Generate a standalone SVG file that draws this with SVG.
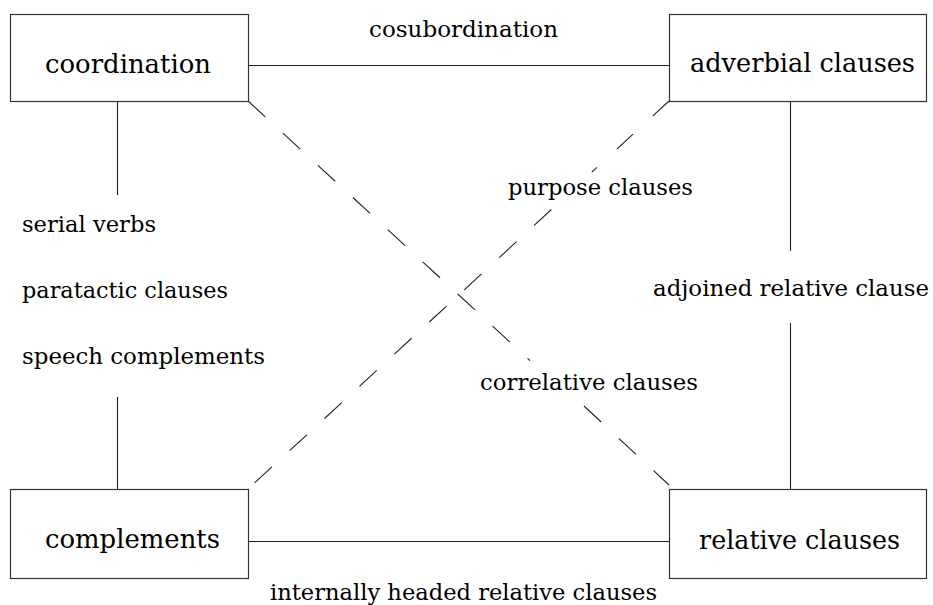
<svg xmlns="http://www.w3.org/2000/svg" width="933" height="605" viewBox="0 0 933 605">
<style>
.box{fill:#fff;stroke:#333;stroke-width:1.2}
.ln{fill:none;stroke:#222;stroke-width:1.1}
.dash{fill:none;stroke:#222;stroke-width:1.1;stroke-dasharray:23.5 24}
text{font-family:'DejaVu Serif',serif;fill:#000}
.big{font-size:26.5px}
.lbl{font-size:23px}
</style>
<rect width="933" height="605" fill="#fff"/>
<g id="connectors">
<line class="ln" x1="248" y1="65.5" x2="669" y2="65.5"/>
<line class="ln" x1="248" y1="541.5" x2="669" y2="541.5"/>
<line class="ln" x1="117.5" y1="101" x2="117.5" y2="195"/>
<line class="ln" x1="117.5" y1="397" x2="117.5" y2="489"/>
<line class="ln" x1="790.5" y1="101" x2="790.5" y2="251"/>
<line class="ln" x1="790.5" y1="323" x2="790.5" y2="489"/>
<path class="dash" d="M248,101 L530,360.6"/>
<path class="dash" d="M584,406 L669,485"/>
<path class="dash" style="stroke-dasharray:22 27" d="M669,101 L591.8,172.2"/>
<path class="dash" d="M551.4,209.5 L248,489"/>
<text class="lbl" x="369" y="37" textLength="189" lengthAdjust="spacingAndGlyphs">cosubordination</text>
<text class="lbl" x="22" y="232" textLength="134" lengthAdjust="spacingAndGlyphs">serial verbs</text>
<text class="lbl" x="22" y="298" textLength="206" lengthAdjust="spacingAndGlyphs">paratactic clauses</text>
<text class="lbl" x="22" y="364" textLength="243" lengthAdjust="spacingAndGlyphs">speech complements</text>
<text class="lbl" x="508" y="195" textLength="185" lengthAdjust="spacingAndGlyphs">purpose clauses</text>
<text class="lbl" x="653" y="296" textLength="276" lengthAdjust="spacingAndGlyphs">adjoined relative clause</text>
<text class="lbl" x="480" y="390" textLength="218" lengthAdjust="spacingAndGlyphs">correlative clauses</text>
<text class="lbl" x="270" y="600" textLength="387" lengthAdjust="spacingAndGlyphs">internally headed relative clauses</text>
</g>
<g id="coordination">
<rect class="box" x="10.5" y="14.5" width="238" height="87"/>
<text class="big" x="45" y="73" textLength="166" lengthAdjust="spacingAndGlyphs">coordination</text>
</g>
<g id="adverbial">
<rect class="box" x="669.5" y="14.5" width="257" height="87"/>
<text class="big" x="690" y="72" textLength="225" lengthAdjust="spacingAndGlyphs">adverbial clauses</text>
</g>
<g id="complements">
<rect class="box" x="10.5" y="489.5" width="238" height="89"/>
<text class="big" x="45" y="548" textLength="175" lengthAdjust="spacingAndGlyphs">complements</text>
</g>
<g id="relative">
<rect class="box" x="669.5" y="489.5" width="257" height="89"/>
<text class="big" x="699" y="549" textLength="201" lengthAdjust="spacingAndGlyphs">relative clauses</text>
</g>
</svg>
